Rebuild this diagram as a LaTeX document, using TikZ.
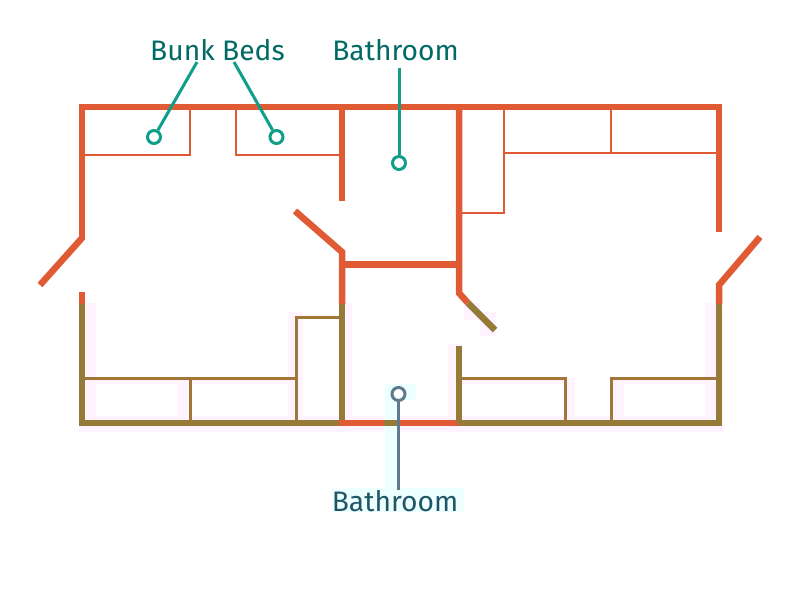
\documentclass[tikz,border=0pt]{standalone}
\usepackage{fontspec}
\setmainfont{Fira Sans}
\definecolor{wallorange}{HTML}{E05A33}
\definecolor{wallolive}{HTML}{967B38}
\definecolor{leadteal}{HTML}{0F9E8A}
\definecolor{leadslate}{HTML}{5F7A8C}
\definecolor{labelteal}{HTML}{006B64}
\definecolor{labelslate}{HTML}{1F5566}
\definecolor{halopink}{HTML}{FFF3FF}
\definecolor{halocyan}{HTML}{EDFFFF}
\tikzset{
  wall/.style={draw=wallorange,line width=6.5pt,line cap=butt,line join=miter},
  wallo/.style={wall,draw=wallolive},
  fit/.style={draw=wallorange,line width=2.6pt,line join=miter},
  fito/.style={fit,line width=3pt,draw=wallolive!85!wallorange},
  lbl/.style={font=\fontsize{28.2}{32}\selectfont,inner sep=0pt,anchor=base},
  lead/.style={draw=leadteal,line width=3pt},
  pin/.style={circle,draw=leadteal,line width=3pt,fill=white,minimum size=13pt,inner sep=0pt},
  halo/.style={fill=halopink,draw=none},
  haloc/.style={fill=halocyan,draw=none},
}
\begin{document}
\begin{tikzpicture}[x=1pt,y=-1pt]
\useasboundingbox (0,0) rectangle (800,600);
% faint halos
\fill[halo] (79,303) rectangle (96,432);
\fill[halo] (79,416) rectangle (384,432);
\fill[halo] (79,377) rectangle (303,384);
\fill[halo] (177,377) rectangle (192,416);
\fill[halo] (288,312) rectangle (303,416);
\fill[halo] (339,303) rectangle (352,416);
\fill[halo] (399,416) rectangle (723,432);
\fill[halo] (448,344) rectangle (462,432);
\fill[halo] (462,378) rectangle (575,384);
\fill[halo] (565,378) rectangle (575,416);
\fill[halo] (610,378) rectangle (723,384);
\fill[halo] (610,378) rectangle (624,416);
\fill[halo] (705,303) rectangle (723,432);
\fill[halo] (464,303) rectangle (480,320);
\fill[halo] (480,312) rectangle (496,336);
\fill[haloc] (385,384) rectangle (416,400);
\fill[haloc] (385,400) rectangle (399,488);
\fill[haloc] (332,488) rectangle (464,512);
% labels
\node[lbl,text=labelteal] (bunk) at (217.5,60) {Bunk Beds};
\node[lbl,text=labelteal] (bath1) at (395.5,60) {Bathroom};
\node[lbl,text=labelslate] (bath2) at (395,511) {Bathroom};
% pins
\node[pin] (p1) at (154,137) {};
\node[pin] (p2) at (276.5,137) {};
\node[pin] (p3) at (399,163) {};
\node[pin,draw=leadslate] (p4) at (398.5,394) {};
\coordinate (b1) at (197,62);
\coordinate (b2) at (234,62);
\coordinate (b3) at (399,68);
\coordinate (b4) at (398.5,490);
% fitted furniture, upper
\draw[fit] (84,155) -- (190,155) -- (190,107);
\draw[fit] (236,107) -- (236,155) -- (340,155);
\draw[fit] (459,213) -- (504,213) -- (504,107);
\draw[fit] (504,153) -- (717,153);
\draw[fit] (611,107) -- (611,153);
% fitted furniture, lower
\draw[fito] (84,378) -- (296,378);
\draw[fito] (190,378) -- (190,423);
\draw[fito] (296,423) -- (296,317) -- (340,317);
\draw[fito] (459,378) -- (565,378) -- (565,423);
\draw[fito] (611,423) -- (611,378) -- (717,378);
% orange walls
\draw[wall] (82,240) -- (82,107) -- (719,107) -- (719,232);
\draw[wall] (82,238) -- (40,285);
\draw[wall] (82,292) -- (82,304);
\draw[wall] (342,107) -- (342,201);
\draw[wall] (295,211) -- (342,252) -- (342,304);
\draw[wall,line width=7pt] (342,264) -- (459,264);
\draw[wall] (459,107) -- (459,293) -- (468,303);
\draw[wall] (719,304) -- (719,285) -- (760,237);
% olive walls
\draw[wallo] (82,304) -- (82,423) -- (342,423);
\draw[wallo] (342,304) -- (342,423);
\draw[wall] (339,423) -- (459,423);
\draw[wallo] (384,423) -- (397,423);
\draw[wallo] (459,423) -- (719,423) -- (719,304);
\draw[wallo] (468,303) -- (495,330);
\draw[wallo] (459,346) -- (459,423);
% leaders over the walls
\draw[lead] (b1) -- (p1);
\draw[lead] (b2) -- (p2);
\draw[lead] (b3) -- (p3);
\draw[lead,draw=leadslate] (b4) -- (p4);
\end{tikzpicture}
\end{document}
